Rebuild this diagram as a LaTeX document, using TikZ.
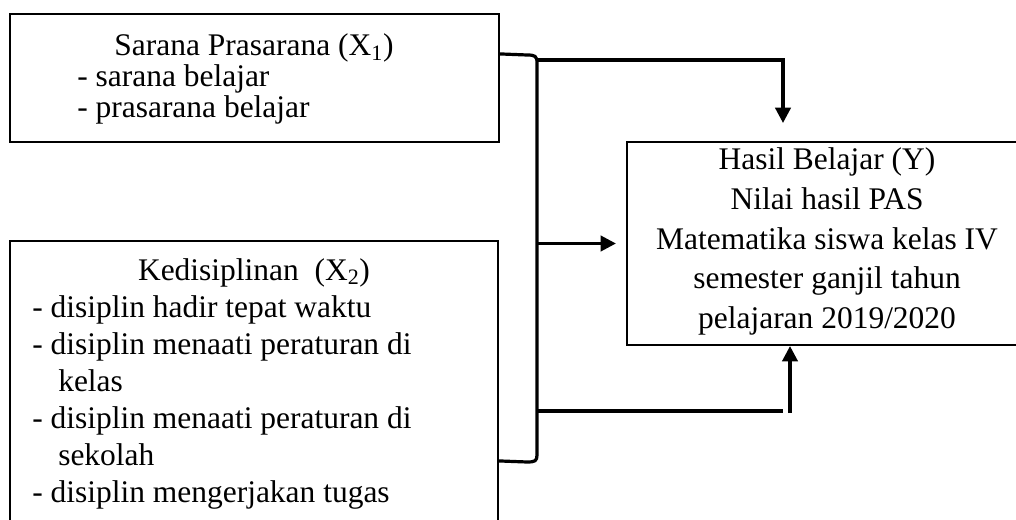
\documentclass[tikz,border=0pt]{standalone}
\usepackage{fontspec}
\setmainfont{Liberation Serif}
\usetikzlibrary{arrows.meta,fit,calc}
\begin{document}
\begin{tikzpicture}[x=0.75pt,y=-0.75pt,
  boxline/.style={draw=black,line width=1.6pt,inner sep=0pt},
  conn/.style={draw=black,line width=2.4pt},
  tip/.style={-{Triangle[length=11.5pt,width=11.5pt]}},
  txt/.style={inner sep=0pt,font=\fontsize{23.6pt}{28pt}\selectfont}]
\useasboundingbox (0,0) rectangle (1016,520);
\clip (0,0) rectangle (1016,520);
% boxes
\coordinate (a1) at (10,14);   \coordinate (b1) at (499,142);
\coordinate (a2) at (10,241);  \coordinate (b2) at (498,540);
\coordinate (ay) at (627,142); \coordinate (by) at (1027,345);
\node[boxline,fit=(a1)(b1)] (x1) {};
\node[boxline,fit=(a2)(b2)] (x2) {};
\node[boxline,fit=(ay)(by)] (y) {};
% texts box 1 (clipped at inner margin)
\begin{scope}
\clip (10,14) rectangle (499,126);
\node[txt,anchor=base] (t1a) at (254,56) {Sarana Prasarana (X\textsubscript{1})};
\node[txt,anchor=base west] (t1b) at (77,87) {- sarana belajar};
\node[txt,anchor=base west] (t1c) at (77,118) {- prasarana belajar};
\end{scope}
% texts box 2
\node[txt,anchor=base] (t2a) at (254,280) {Kedisiplinan\ \ (X\textsubscript{2})};
\node[txt,anchor=base west] (t2b) at (32,317) {- disiplin hadir tepat waktu};
\node[txt,anchor=base west] (t2c) at (32,354) {- disiplin menaati peraturan di};
\node[txt,anchor=base west] (t2d) at (58,391) {kelas};
\node[txt,anchor=base west] (t2e) at (32,428) {- disiplin menaati peraturan di};
\node[txt,anchor=base west] (t2f) at (58,465) {sekolah};
\node[txt,anchor=base west] (t2g) at (32,502) {- disiplin mengerjakan tugas};
% texts box Y
\node[txt,anchor=base] (ty1) at (827,170) {Hasil Belajar (Y)};
\node[txt,anchor=base] (ty2) at (827,209.5) {Nilai hasil PAS};
\node[txt,anchor=base] (ty3) at (827,249) {Matematika siswa kelas IV};
\node[txt,anchor=base] (ty4) at (827,288.5) {semester ganjil tahun};
\node[txt,anchor=base] (ty5) at (827,328) {pelajaran 2019/2020};
% connector coordinates
\coordinate (bt) at (537,60);
\coordinate (bb) at (537,411);
\coordinate (bm) at (537,243.5);
\coordinate (tr) at (783,60);
\coordinate (ytop) at (783,123);
\coordinate (br) at (783,411);
\coordinate (bx) at (790,413);
% bracket
\draw[conn,line cap=butt] ($(x1.north east)+(0,41)$) -- (527,55) .. controls (535,55) and (537,56) .. (537,63)
   -- (537,455) .. controls (537,461) and (535,462) .. (527,462) -- ($(x2.north east)+(0,221)$);
% top arrow
\draw[conn,tip] (bt) -- (tr) -- (ytop);
% middle arrow
\draw[conn,tip] (bm) -- ([xshift=-7.5pt]y.west);
% bottom
\draw[conn] (bb) -- (br);
\draw[conn,tip] (bx) -- (y.south -| bx);
\end{tikzpicture}
\end{document}
